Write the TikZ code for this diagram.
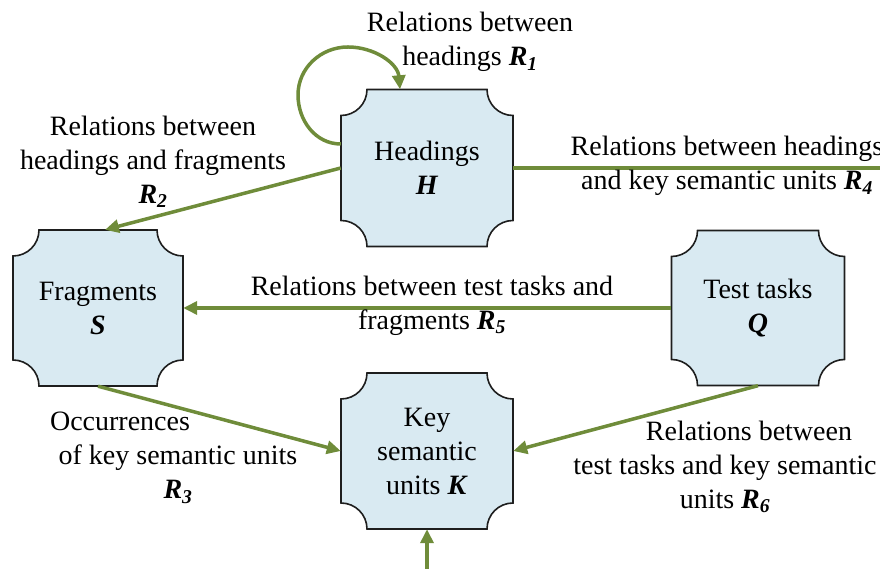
\documentclass[tikz,border=0pt]{standalone}
\usepackage{fontspec}
\setmainfont{Liberation Serif}
\usetikzlibrary{arrows.meta}

\definecolor{boxfill}{HTML}{D9EAF2}
\definecolor{boxline}{HTML}{1E1E1E}
\definecolor{edgegreen}{HTML}{6F8C3A}

% relation symbol R_i and bold italic set names
\newcommand\rel[1]{\textbf{\textit{R}}\textsubscript{\textbf{\textit{#1}}}}
\newcommand\sym[1]{\textbf{\textit{#1}}}

% box with concave (notched) corners, then a named node on top of it
% #1 name, #2 cx, #3 cy, #4 width, #5 height, #6 text
\newcommand\unitbox[6]{%
  \path[notch] ({#2-#4/2+26},{#3+#5/2})
    -- ++({#4-52},0) arc[start angle=180,end angle=270,radius=26]
    -- ++(0,{-(#5-52)}) arc[start angle=90,end angle=180,radius=26]
    -- ++({-(#4-52)},0) arc[start angle=0,end angle=90,radius=26]
    -- ++(0,{#5-52}) arc[start angle=270,end angle=360,radius=26]
    -- cycle;
  \node[minimum width=#4pt,minimum height=#5pt] (#1) at (#2,#3) {#6};
}

\begin{document}
\begin{tikzpicture}[x=1pt,y=1pt,
  every node/.style={font=\fontsize{28}{34}\selectfont,inner sep=0pt,align=center},
  notch/.style={fill=boxfill,draw=boxline,line width=1.6pt},
  link/.style={draw=edgegreen,line width=3.5pt,-{Triangle[length=14pt,width=13pt]}},
  plainlink/.style={draw=edgegreen,line width=3.5pt}]
\useasboundingbox (0,0) rectangle (880,569);
\clip (0,0) rectangle (880,569);

% entity boxes
\unitbox{H}{427}{401}{172}{157}{Headings\\\sym{H}}
\unitbox{S}{98}{261}{170}{156}{Fragments\\\sym{S}}
\unitbox{Q}{758}{261}{173}{155}{Test tasks\\\sym{Q}}
\unitbox{K}{427}{118}{172}{156}{Key\\semantic\\units \sym{K}}

% free ends of connectors leaving the frame
\coordinate (r4end) at (895,401);
\coordinate (kfeed) at (427,-10);

% relations
\draw[link] ([yshift=24pt]H.west) to[out=180,in=270] (298,474)
  to[out=90,in=180] (348,522) to[out=0,in=95] ([xshift=-27pt]H.north);
\draw[link] (H.west) -- ([xshift=7pt]S.north);
\draw[plainlink] (H.east) -- (r4end);
\draw[link] (Q.west) -- (S.east);
\draw[link] (S.south) -- (K.west);
\draw[link] (Q.south) -- (K.east);
\draw[link] (kfeed) -- (K.south);

% relation labels
\node (lr1) at (470,527) {Relations between\\headings \rel{1}};
\node (lr2) at (153,407) {Relations between\\headings and fragments\\\rel{2}};
\node (lr4) at (727,403) {Relations between headings\\and key semantic units \rel{4}};
\node (lr5) at (432,263) {Relations between test tasks and\\fragments \rel{5}};
\node (lr3) at (178,111) {Occurrences\hspace*{116pt}\\of key semantic units\\\rel{3}};
\node (lr6) at (725,102) {\hspace*{48pt}Relations between\\test tasks and key semantic\\units \rel{6}};
\end{tikzpicture}
\end{document}
